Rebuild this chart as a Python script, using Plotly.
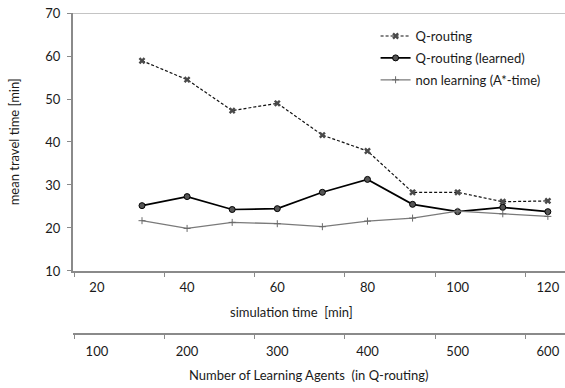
import plotly.graph_objects as go

# simulation time [min] of each run
sim_time = [30, 40, 50, 60, 70, 80, 90, 100, 110, 120]

# mean travel time [min]
q_routing = [58.9, 54.5, 47.3, 49.0, 41.6, 37.9, 28.3, 28.3, 26.1, 26.3]
q_routing_learned = [25.2, 27.3, 24.3, 24.5, 28.3, 31.3, 25.5, 23.8, 24.8, 23.8]
non_learning = [21.7, 19.9, 21.3, 21.0, 20.3, 21.6, 22.3, 23.9, 23.3, 22.7]

# axis labelling
time_ticks = [20, 40, 60, 80, 100, 120]
agent_ticks = [100, 200, 300, 400, 500, 600]
agents_per_minute = 5

FONT = "Lato"
AXIS_GREY = "#8a8a8a"
TEXT = "#1a1a1a"

x_range = [14.7, 123.8]
minor_time = [15, 35, 55, 75, 95, 115]

fig = go.Figure()

fig.add_trace(go.Scatter(
    x=sim_time, y=q_routing, name="Q-routing", mode="lines+markers",
    legendgroup="a",
    line=dict(color="#111111", width=1.2, dash="3px,2px"),
    marker=dict(symbol="x", size=6, color="#4a4a4a"),
))
fig.add_trace(go.Scatter(
    x=sim_time, y=q_routing_learned, name="Q-routing (learned)", mode="lines+markers",
    legendgroup="b",
    line=dict(color="#000000", width=1.7),
    marker=dict(symbol="circle", size=6, color="#555555",
                line=dict(color="#000000", width=1)),
))
fig.add_trace(go.Scatter(
    x=sim_time, y=non_learning, name="non learning (A*-time)", mode="lines+markers",
    legendgroup="c",
    line=dict(color="#7a7a7a", width=1.3),
    marker=dict(symbol="cross-thin", size=5, color="#6a6a6a",
                line=dict(color="#6a6a6a", width=1)),
))
# empty trace so the agent-count axis gets its own subplot and is drawn
fig.add_trace(go.Scatter(x=[], y=[], xaxis="x3", yaxis="y", showlegend=False,
                         hoverinfo="skip"))

tick_font = dict(family=FONT, size=13, color=TEXT)

fig.update_layout(
    width=565, height=388,
    margin=dict(l=73, r=0, t=13, b=54),
    paper_bgcolor="white", plot_bgcolor="white",
    font=dict(family=FONT, size=13, color=TEXT),
    showlegend=True,
    legend=dict(x=0.615, y=0.975, xanchor="left", yanchor="top",
                bgcolor="rgba(0,0,0,0)", font=dict(family=FONT, size=13, color=TEXT),
                itemwidth=30, tracegroupgap=2, traceorder="grouped"),
    xaxis=dict(
        range=x_range, showgrid=False, zeroline=False,
        showline=True, linecolor=AXIS_GREY, linewidth=2,
        tickvals=time_ticks, ticktext=[str(t) for t in time_ticks],
        ticks="", tickfont=tick_font, ticklabelstandoff=3,
        minor=dict(tickvals=minor_time, ticks="outside", ticklen=4,
                   tickcolor=AXIS_GREY, tickwidth=1, showgrid=False),
        anchor="y",
    ),
    xaxis3=dict(
        range=[v * agents_per_minute for v in x_range],
        overlaying="x", anchor="free", position=0,
        showgrid=False, zeroline=False,
        showline=True, linecolor=AXIS_GREY, linewidth=2,
        tickvals=agent_ticks, ticktext=[str(t) for t in agent_ticks],
        ticks="", tickfont=tick_font, ticklabelstandoff=5,
        minor=dict(tickvals=[v * agents_per_minute for v in minor_time],
                   ticks="outside", ticklen=4, tickcolor=AXIS_GREY,
                   tickwidth=1, showgrid=False),
    ),
    yaxis=dict(
        range=[10, 70], dtick=10, domain=[0.1963, 1],
        showgrid=False, zeroline=False,
        showline=True, linecolor=AXIS_GREY, linewidth=2,
        ticks="outside", ticklen=4, tickcolor=AXIS_GREY, tickwidth=1,
        tickfont=tick_font, ticklabelstandoff=4,
    ),
    shapes=[dict(type="line", xref="paper", yref="y", x0=0, x1=1, y0=70, y1=70,
                 line=dict(color=AXIS_GREY, width=1))],
    annotations=[
        dict(text="mean travel time [min]", xref="paper", yref="paper",
             x=-0.12, y=0.6, textangle=-90, showarrow=False,
             xanchor="center", yanchor="middle", font=dict(family=FONT, size=13, color=TEXT)),
        dict(text="simulation time  [min]", xref="paper", yref="paper",
             x=(291 - 73) / 492, y=(334 - 312) / 321, showarrow=False,
             xanchor="center", yanchor="middle", font=dict(family=FONT, size=13, color=TEXT)),
        dict(text="Number of Learning Agents  (in Q-routing)", xref="paper", yref="paper",
             x=(309 - 73) / 492, y=-(375 - 334) / 321, showarrow=False,
             xanchor="center", yanchor="middle", font=dict(family=FONT, size=13, color=TEXT)),
    ],
)

fig.write_html("out.html")
